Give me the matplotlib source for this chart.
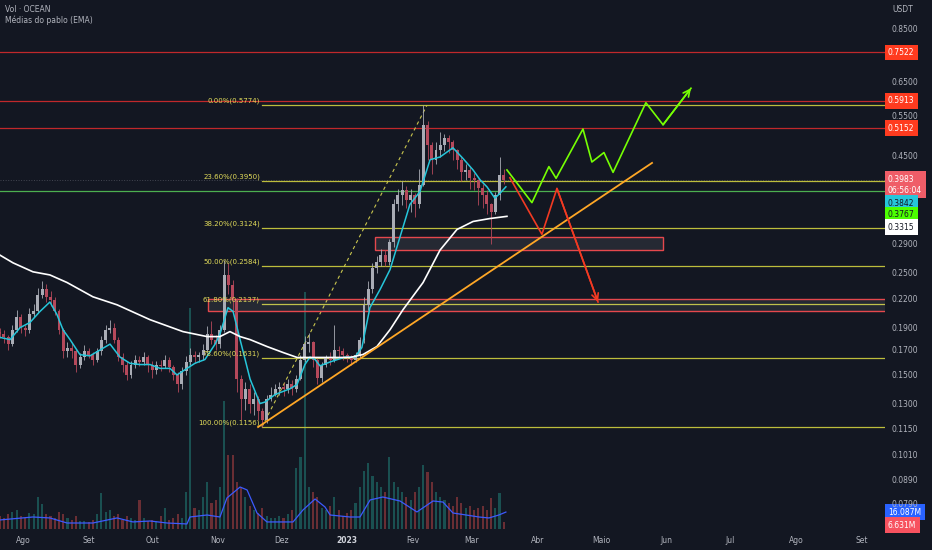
import numpy as np
import pandas as pd
import matplotlib
matplotlib.use('Agg')
import matplotlib.pyplot as plt
import matplotlib.dates as mdates
from matplotlib.patches import Rectangle

# === Daten (2-Tages-Kerzen OCEAN/USDT, ab 21.07.2022) ===
candle_start = '2022-07-21'
open_first = 0.186
close = [0.184, 0.181, 0.175, 0.188, 0.200, 0.190, 0.188, 0.203, 0.206, 0.224,
         0.230, 0.221, 0.218, 0.206, 0.188, 0.169, 0.172, 0.169, 0.158, 0.164,
         0.169, 0.166, 0.162, 0.169, 0.179, 0.188, 0.190, 0.179, 0.164, 0.158,
         0.150, 0.158, 0.162, 0.160, 0.164, 0.158, 0.154, 0.158, 0.157, 0.162,
         0.156, 0.150, 0.143, 0.153, 0.160, 0.166, 0.164, 0.166, 0.170, 0.184,
         0.179, 0.175, 0.188, 0.247, 0.235, 0.218, 0.147, 0.133, 0.140, 0.130,
         0.133, 0.125, 0.120, 0.133, 0.136, 0.140, 0.141, 0.140, 0.143, 0.140,
         0.147, 0.162, 0.175, 0.177, 0.162, 0.148, 0.158, 0.164, 0.162, 0.170,
         0.169, 0.166, 0.164, 0.162, 0.166, 0.179, 0.213, 0.230, 0.256, 0.264,
         0.273, 0.264, 0.292, 0.352, 0.369, 0.379, 0.360, 0.369, 0.352, 0.388,
         0.523, 0.474, 0.440, 0.462, 0.474, 0.490, 0.481, 0.462, 0.440, 0.414,
         0.418, 0.402, 0.398, 0.382, 0.369, 0.352, 0.338, 0.369, 0.408, 0.398]
high = [0.190, 0.188, 0.183, 0.193, 0.208, 0.203, 0.193, 0.210, 0.214, 0.232,
        0.240, 0.236, 0.228, 0.222, 0.209, 0.190, 0.177, 0.176, 0.171, 0.167,
        0.174, 0.172, 0.168, 0.172, 0.182, 0.193, 0.197, 0.194, 0.181, 0.167,
        0.161, 0.161, 0.166, 0.165, 0.168, 0.166, 0.161, 0.161, 0.162, 0.166,
        0.164, 0.158, 0.152, 0.156, 0.165, 0.172, 0.169, 0.168, 0.175, 0.192,
        0.196, 0.183, 0.193, 0.266, 0.262, 0.241, 0.220, 0.150, 0.145, 0.143,
        0.138, 0.135, 0.127, 0.136, 0.141, 0.143, 0.145, 0.144, 0.147, 0.146,
        0.150, 0.166, 0.182, 0.185, 0.178, 0.163, 0.160, 0.166, 0.168, 0.193,
        0.173, 0.172, 0.167, 0.166, 0.168, 0.181, 0.222, 0.240, 0.262, 0.272,
        0.282, 0.280, 0.296, 0.362, 0.380, 0.395, 0.385, 0.380, 0.372, 0.420,
        0.578, 0.535, 0.480, 0.480, 0.505, 0.500, 0.498, 0.485, 0.465, 0.445,
        0.430, 0.425, 0.412, 0.400, 0.390, 0.378, 0.355, 0.375, 0.445, 0.420]
low = [0.180, 0.176, 0.170, 0.173, 0.186, 0.185, 0.182, 0.185, 0.200, 0.204,
       0.220, 0.216, 0.212, 0.202, 0.184, 0.163, 0.164, 0.163, 0.152, 0.155,
       0.162, 0.163, 0.158, 0.160, 0.166, 0.176, 0.185, 0.176, 0.161, 0.152,
       0.146, 0.148, 0.155, 0.157, 0.158, 0.152, 0.148, 0.151, 0.153, 0.155,
       0.152, 0.146, 0.138, 0.140, 0.150, 0.158, 0.159, 0.160, 0.162, 0.168,
       0.175, 0.170, 0.172, 0.186, 0.225, 0.205, 0.138, 0.120, 0.126, 0.124,
       0.123, 0.120, 0.1156, 0.118, 0.132, 0.135, 0.136, 0.135, 0.137, 0.136,
       0.138, 0.146, 0.160, 0.168, 0.156, 0.143, 0.145, 0.156, 0.158, 0.160,
       0.164, 0.162, 0.160, 0.158, 0.160, 0.163, 0.176, 0.208, 0.226, 0.250,
       0.258, 0.258, 0.260, 0.285, 0.340, 0.350, 0.345, 0.338, 0.330, 0.345,
       0.385, 0.440, 0.410, 0.430, 0.445, 0.460, 0.455, 0.440, 0.420, 0.395,
       0.398, 0.380, 0.378, 0.350, 0.345, 0.335, 0.288, 0.335, 0.360, 0.390]
volume = [12, 10, 14, 16, 18, 12, 10, 15, 14, 30, 24, 14, 12, 10, 16, 14, 10, 9, 12, 8,
          8, 7, 9, 14, 34, 16, 18, 12, 14, 9, 12, 10, 9, 28, 10, 8, 9, 8, 12, 20,
          9, 10, 14, 10, 35, 210, 20, 18, 30, 45, 25, 28, 40, 122, 70, 70, 45, 40, 30, 22,
          18, 15, 20, 12, 10, 10, 12, 10, 14, 18, 58, 68, 225, 40, 35, 30, 20, 18, 22, 30,
          18, 12, 15, 18, 25, 40, 55, 63, 50, 45, 40, 35, 68, 45, 40, 35, 30, 28, 35, 40,
          61, 54, 45, 35, 30, 28, 25, 22, 30, 25, 20, 22, 18, 20, 22, 18, 29, 20, 34, 6.631]

# Volumen-MA (Tage seit 01.08.2022, Mio.)
vol_ma_days = [-10.9, 4.7, 12.7, 20.8, 33, 44.4, 51.9, 60, 68, 77.4, 78.8, 86.9, 93, 96.3,
               102.5, 105.8, 110.5, 115.2, 127.5, 132.2, 137.9, 142.6, 145, 154.4, 159.1,
               163.9, 169.9, 178, 186, 193.6, 198.3, 203, 209.2, 215.3, 220, 224.7, 228]
vol_ma = [8.6, 11.4, 10.5, 5.7, 5.7, 10.5, 6.7, 7.6, 5.7, 4.8, 11.4, 13.3, 11.4, 29.5,
          39.9, 37.1, 15.2, 6.7, 6.7, 18.1, 28.5, 20.9, 13.3, 11.4, 11.4, 27.6, 30.4,
          26.6, 16.2, 26.6, 25.6, 15.2, 13.3, 11.4, 10.5, 13.3, 16.087]

# EMAs
ema_fast_days = [-10.9, -6.1, -1.4, 3.3, 8, 12.7, 16, 18.9, 22.2, 26.9, 31.6, 36.4, 41.1,
                 45.8, 50.5, 55.2, 60, 64.7, 69.4, 72.7, 76.5, 81.2, 85.9, 90.7, 93, 96.8,
                 99.2, 102.5, 107.2, 111.9, 114.3, 119, 126.1, 129.4, 133.1, 135.5, 137.9,
                 140.2, 144.9, 152, 156.7, 160, 163.8, 168.6, 173.3, 178, 182.7, 187.4,
                 192.2, 196.9, 203, 207.7, 212.5, 215.8, 219.1, 222.8, 225.2, 228]
ema_fast = [0.181, 0.179, 0.190, 0.195, 0.206, 0.216, 0.203, 0.188, 0.179, 0.166, 0.165,
            0.170, 0.175, 0.164, 0.159, 0.158, 0.158, 0.155, 0.155, 0.150, 0.154, 0.159,
            0.162, 0.175, 0.184, 0.210, 0.206, 0.179, 0.147, 0.130, 0.131, 0.136, 0.140,
            0.143, 0.158, 0.164, 0.162, 0.157, 0.160, 0.164, 0.164, 0.172, 0.210, 0.230,
            0.254, 0.299, 0.352, 0.375, 0.440, 0.446, 0.467, 0.443, 0.418, 0.398, 0.384,
            0.363, 0.372, 0.3842]
ema_slow_days = [-10.9, -4.7, 4.7, 12.7, 20.8, 33, 44.4, 60, 75.5, 86.9, 93, 97.7, 102.5,
                 107.2, 115.2, 122.8, 129.4, 138.8, 146.4, 154.4, 160.5, 167.1, 173.3,
                 179.4, 188.9, 196.9, 204.9, 212.5, 220.5, 228.5]
ema_slow = [0.2731, 0.2627, 0.2512, 0.2473, 0.2381, 0.2217, 0.2130, 0.1977, 0.1863,
            0.1817, 0.1817, 0.1863, 0.1817, 0.1790, 0.1729, 0.1678, 0.1637, 0.1637,
            0.1637, 0.1637, 0.1661, 0.1729, 0.1881, 0.2078, 0.2381, 0.2800, 0.3104,
            0.3231, 0.3279, 0.3315]

# Zeichnungen
red_levels = [0.7522, 0.5913, 0.5152]
green_level = 0.3767
last_price = 0.3983
countdown = '06:56:04'
fib_levels = [0.0, 0.236, 0.382, 0.5, 0.618, 0.786, 1.0]
fib_prices = [0.5774, 0.3950, 0.3124, 0.2584, 0.2137, 0.1631, 0.1156]
fib_days = [112.8, 190.7]  # Anker 100% -> 0%
trend_days = [111.0, 297.0]
trend_prices = [0.1156, 0.433]
zones = [(166.2, 302.2, 0.280, 0.299), (87.3, 420.0, 0.207, 0.2195)]
bull_days = [228.5, 240.3, 248.3, 251.7, 264.4, 268.6, 274.3, 278.6, 294.1, 302.2, 315.4]
bull_prices = [0.418, 0.355, 0.425, 0.401, 0.513, 0.435, 0.456, 0.413, 0.585, 0.524, 0.629]
bear_days = [229.9, 245.0, 252.1, 271.5]
bear_prices = [0.402, 0.303, 0.381, 0.216]

month_starts = ['2022-08-01', '2022-09-01', '2022-10-01', '2022-11-01', '2022-12-01',
                '2023-01-01', '2023-02-01', '2023-03-01', '2023-04-01', '2023-05-01',
                '2023-06-01', '2023-07-01', '2023-08-01', '2023-09-01']
month_labels = ['Ago', 'Set', 'Out', 'Nov', 'Dez', '2023', 'Fev', 'Mar', 'Abr', 'Maio',
                'Jun', 'Jul', 'Ago', 'Set']
price_ticks = [0.85, 0.65, 0.55, 0.45, 0.29, 0.25, 0.22, 0.19, 0.17, 0.15, 0.13, 0.115,
               0.101, 0.089, 0.079]

# === Farben ===
BG = '#131722'
TXT = '#b2b5be'
UP, DOWN = '#a9acb5', '#b5495b'

plt.rcParams['font.family'] = ['DejaVu Sans']

base = mdates.date2num(pd.Timestamp('2022-08-01'))
def dn(days):
    return base + np.asarray(days, dtype=float)

t = mdates.date2num(pd.date_range(candle_start, periods=len(close), freq='2D'))
c = np.array(close)
o = np.concatenate([[open_first], c[:-1]])
h = np.maximum(np.array(high), np.maximum(o, c))
l = np.minimum(np.array(low), np.minimum(o, c))
up = c >= o

W, H = 932, 550
fig = plt.figure(figsize=(W / 100, H / 100), dpi=100, facecolor=BG)
rect = [0, 21 / H, 885 / W, 529 / H]
axv = fig.add_axes(rect, facecolor=BG)
ax = fig.add_axes(rect, sharex=axv)
ax.patch.set_alpha(0)

xlim = (dn(-10.86), dn(407.0))

# Volumen
vcol = np.where(up, '#26a69a', '#ef5350')
axv.bar(t, volume, width=1.0, color=vcol, alpha=0.4, linewidth=0)
axv.plot(dn(vol_ma_days), vol_ma, color='#3d5afe', lw=0.9)
axv.set_ylim(0, 529 * 0.95)
axv.axis('off')

# Kerzen
ax.set_yscale('log')
ccol = np.where(up, UP, DOWN)
ax.vlines(t, l, h, colors=ccol, lw=0.6, zorder=3)
body_lo = np.minimum(o, c)
body_hi = np.maximum(o, c)
ax.bar(t, body_hi - body_lo, bottom=body_lo, width=1.4, color=ccol, linewidth=0, zorder=3)

ax.plot(dn(ema_fast_days), ema_fast, color='#26c6da', lw=1.1, zorder=4)
ax.plot(dn(ema_slow_days), ema_slow, color='white', lw=1.2, zorder=4)

# Horizontale Linien
for lv in red_levels:
    ax.axhline(lv, color='#c0282b', lw=0.9, zorder=2)
ax.axhline(green_level, color='#4caf50', lw=0.9, zorder=2)
ax.axhline(last_price, color='#434651', lw=0.7, ls=':', zorder=1)

# Fibonacci
for lvl, pr in zip(fib_levels, fib_prices):
    ax.plot([dn(fib_days[0]), xlim[1]], [pr, pr], color='#bdbd3c', lw=0.9, zorder=2)
    ax.annotate(f'{lvl * 100:.2f}%({pr:.4f})', xy=(dn(fib_days[0]), pr), xytext=(-2, 1.5),
                textcoords='offset pixels', ha='right', va='bottom', fontsize=5,
                color='#e2dc5a', zorder=5)
ax.plot(dn(fib_days), [fib_prices[-1], fib_prices[0]], color='#c9c64e', lw=0.8,
        ls=(0, (3, 3)), zorder=2)

# Zonen
for d0, d1, p0, p1 in zones:
    ax.add_patch(Rectangle((dn(d0), p0), d1 - d0, p1 - p0, facecolor='#ffffff', alpha=0.08,
                           edgecolor='none', zorder=2))
    ax.add_patch(Rectangle((dn(d0), p0), d1 - d0, p1 - p0, facecolor='none',
                           edgecolor='#e5484d', lw=1.0, zorder=2))

# Trendlinie
ax.plot(dn(trend_days), trend_prices, color='#ffa726', lw=1.3, zorder=4)

# Szenarien
ax.plot(dn(bull_days), bull_prices, color='#76ff03', lw=1.2, zorder=5)
ax.annotate('', xy=(dn(bull_days[-1]), bull_prices[-1]), xytext=(dn(bull_days[-2]), bull_prices[-2]),
            arrowprops=dict(arrowstyle='->', color='#76ff03', lw=1.2, mutation_scale=12,
                            shrinkA=0, shrinkB=0), zorder=5)
ax.plot(dn(bear_days), bear_prices, color='#f23a22', lw=1.2, zorder=5)
ax.annotate('', xy=(dn(bear_days[-1]), bear_prices[-1]), xytext=(dn(bear_days[-2]), bear_prices[-2]),
            arrowprops=dict(arrowstyle='->', color='#f23a22', lw=1.2, mutation_scale=12,
                            shrinkA=0, shrinkB=0), zorder=5)

# Achsen
ax.set_xlim(*xlim)
ax.set_ylim(0.06943, 0.9778)
ax.yaxis.tick_right()
ax.yaxis.set_minor_locator(matplotlib.ticker.NullLocator())
ax.yaxis.set_minor_formatter(matplotlib.ticker.NullFormatter())
ax.set_yticks(price_ticks)
ax.set_yticklabels([f'{p:.4f}' for p in price_ticks])
ax.tick_params(axis='y', length=0, pad=5, labelsize=5.5, labelcolor=TXT)
ax.set_xticks(mdates.date2num(pd.to_datetime(month_starts)))
ax.set_xticklabels(month_labels)
ax.tick_params(axis='x', length=0, pad=5, labelsize=5.5, labelcolor=TXT)
for lab in ax.get_xticklabels():
    if lab.get_text() == '2023':
        lab.set_fontweight('bold')
        lab.set_color('#d1d4dc')
for sp in ax.spines.values():
    sp.set_visible(False)

# Preisboxen rechts
def box(val, text, fc, tc, dy=0, axis=ax):
    axis.annotate(text, xy=(1, val), xycoords=axis.get_yaxis_transform(),
                  xytext=(3, dy), textcoords='offset pixels', ha='left', va='center',
                  fontsize=5.5, color=tc, linespacing=1.3,
                  bbox=dict(boxstyle='square,pad=0.45', fc=fc, ec='none'), annotation_clip=False)

for lv in red_levels:
    box(lv, f'{lv:.4f}', '#ff3b1f', 'white')
box(last_price, f'{last_price:.4f}\n{countdown}', '#ef5d68', 'white', dy=-5)
box(ema_fast[-1], f'{ema_fast[-1]:.4f}', '#26c6da', '#131722', dy=-16.6)
box(green_level, f'{green_level:.4f}', '#4cff00', '#131722', dy=-24)
box(ema_slow[-1], f'{ema_slow[-1]:.4f}', 'white', '#131722', dy=-11)
box(vol_ma[-1], f'{vol_ma[-1]:.3f}M', '#2962ff', 'white', axis=axv)
box(volume[-1], f'{volume[-1]:.3f}M', '#f7525f', 'white', dy=-3, axis=axv)

fig.text(892 / W, 1 - 10 / H, 'USDT', fontsize=5.5, color=TXT, va='center')
fig.text(5 / W, 1 - 9 / H, 'Vol · OCEAN', fontsize=5.5, color=TXT, va='center')
fig.text(5 / W, 1 - 20 / H, 'Médias do pablo (EMA)', fontsize=5.5, color=TXT, va='center')

fig.savefig('out.png', dpi=100, facecolor=BG)
